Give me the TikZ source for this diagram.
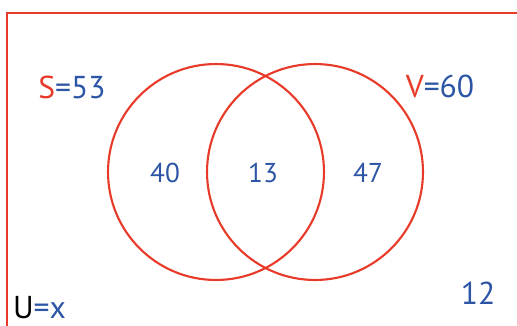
\documentclass[tikz,border=0pt]{standalone}
\usepackage{fontspec}
\setmainfont{PT Sans}
\usepackage{xcolor}
\usetikzlibrary{positioning}
\definecolor{vennred}{RGB}{232,58,40}
\definecolor{numblue}{RGB}{45,85,165}

\begin{document}
\begin{tikzpicture}[
 x=0.02cm,y=-0.02cm,
 set/.style={draw=vennred,line width=1.2pt,circle,minimum size=4.32cm},
 num/.style={text=numblue,font=\fontsize{15.5}{18}\selectfont},
 lab/.style={text=numblue,font=\fontsize{18}{20}\selectfont}
]
\useasboundingbox (0,0) rectangle (517,325);
\clip (0,0) rectangle (517,325);
\draw[vennred,line width=1.2pt] (7,13) rectangle (540,345);
\node[set] (S) at (216,172) {};
\node[set] (V) at (315,172) {};
\node[num] (only S) at (165,173) {40};
\node[num] (both) at (263,173) {13};
\node[num] (only V) at (368,173) {47};
\node[lab] (none) at (478,293) {12};
\node[lab] (S lab) at (72,87) {\textcolor{vennred}{S}=53};
\node[lab] (V lab) at (440,86) {\textcolor{vennred}{V}=60};
\node[lab,anchor=south west,inner sep=1pt] (U lab) at (11,321) {\textcolor{black}{U}=x};
\end{tikzpicture}
\end{document}
